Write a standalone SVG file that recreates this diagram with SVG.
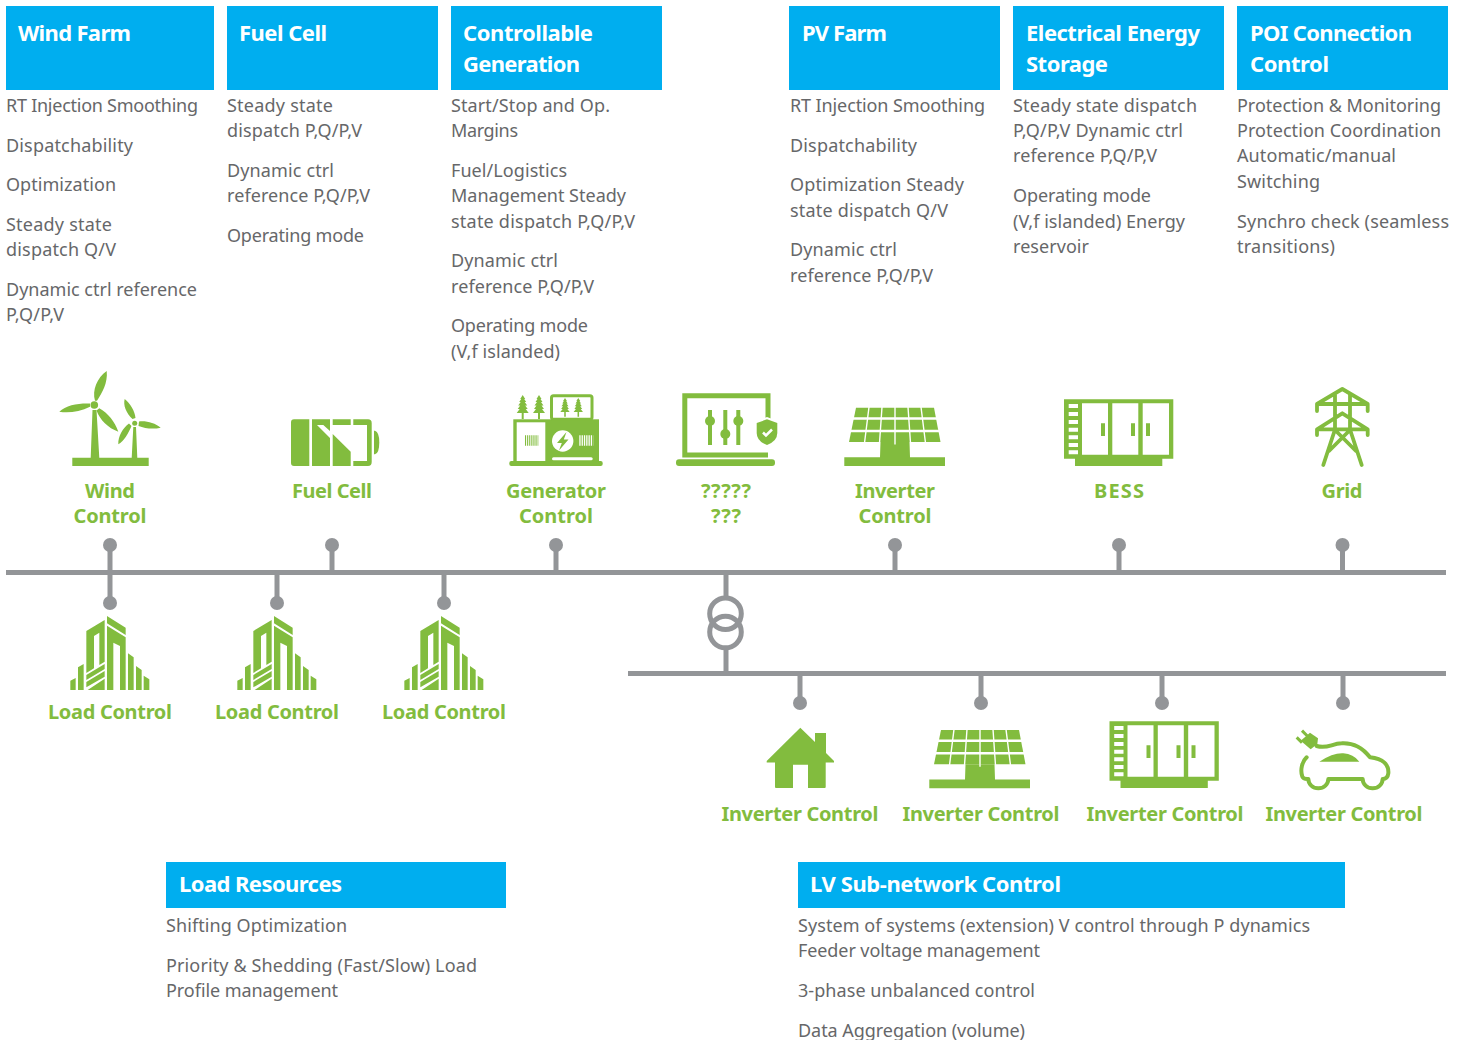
<svg xmlns="http://www.w3.org/2000/svg" xmlns:xlink="http://www.w3.org/1999/xlink" width="1465" height="1040" viewBox="0 0 1465 1040">
<style>
text{font-family:"Noto Sans","Open Sans","Liberation Sans",sans-serif}
.h{fill:#00aeef}
.ht{fill:#fff;font-weight:700;font-size:22px}
.b{fill:#666769;font-size:18px}
.l{fill:#82bc3e;font-weight:700;font-size:20px;text-anchor:middle}
.g{fill:#82bc3e}
.w{fill:#fff}
.gs{fill:none;stroke:#82bc3e}
.bus{stroke:#939598;stroke-width:5;fill:none}
.pin{fill:#939598}
</style>
<defs>
<g id="load" transform="translate(40,560) scale(.33333)">
<path class="g" d="M91,362L107,354V390H91ZM114,322L131,312V390H114ZM139,213L194,180V305L178,315V218L162,228V325L139,339ZM139,345L194,312V327L139,360ZM139,366L194,333V350L139,382ZM143,390L194,356V390ZM201,168L257,203V225L201,190ZM201,197L257,232V390H240V258L220,248V390H201ZM264,280L281,292V390H264ZM288,318L305,330V390H288ZM311,347L328,358V390H311Z"/>
</g>
<g id="panel">
<polygon class="g" points="856,407.700 934,407.700 940.500,442 849,442"/>
<path stroke="#fff" stroke-width="2.600" fill="none" d="M845,418.500H945M845,431H945"/>
<path stroke="#fff" stroke-width="1.400" fill="none" d="M869,407L864.500,443M882,407L879.500,443M895,407V444M908,407L910.500,443M921,407L925.500,443"/>
<polygon class="g" points="880.500,442 894.300,442 894.300,444.500 895.700,444.500 895.700,442 909.500,442 910,457.300 945,457.300 945,466 844.300,466 844.300,457.300 880,457.300"/>
</g>
<g id="bess">
<path class="g" d="M1064,399.300H1173.300V458.700H1162.300V466H1075V458.700H1064Z"/>
<path class="w" d="M1082,403.300h26v51.400h-26ZM1112.300,403.300h26v51.400h-26ZM1142.700,403.300h26.300v51.400h-26.300ZM1068.700,404h9.300v4h-9.300ZM1068.700,412h9.300v4h-9.300ZM1068.700,420h9.300v4h-9.300ZM1068.700,427.700h9.300v4h-9.300ZM1068.700,435.300h9.300v4h-9.300ZM1068.700,443h9.300v4h-9.300ZM1068.700,450.300h9.300v4h-9.300Z"/>
<path class="g" d="M1101,423.300h4v12.700h-4ZM1131,423.300h4v12.700h-4ZM1146,423.300h4v12.700h-4Z"/>
</g>
<path id="tree" d="M0,0L2.500,4H1.500L3.500,7H2L4.500,10.500H2.500L5,14H3L6,18H1V24H-1V18H-6L-3,14H-5L-2.500,10.500H-4.500L-2,7H-3.500L-1.500,4H-2.500Z"/>
</defs>

<g id="connectors">
<path class="bus" d="M6,572.500H1446M628,673.500H1446"/>
<path class="bus" d="M110,545V603M332,545V572M556,545V572M895,545V572M1119,545V572M1342.500,545V572M277,572V603M444,572V603M726,575V596M726,650V671M800,676V703M981,676V703M1162,676V703M1343,676V703"/>
<circle class="bus" cx="725.500" cy="613.700" r="15.800"/>
<circle class="bus" cx="725.500" cy="632" r="15.800"/>
<g class="pin">
<circle cx="110" cy="545" r="7"/><circle cx="332" cy="545" r="7"/><circle cx="556" cy="545" r="7"/><circle cx="895" cy="545" r="7"/><circle cx="1119" cy="545" r="7"/><circle cx="1342.500" cy="545" r="7"/>
<circle cx="110" cy="603" r="7"/><circle cx="277" cy="603" r="7"/><circle cx="444" cy="603" r="7"/>
<circle cx="800" cy="703" r="7"/><circle cx="981" cy="703" r="7"/><circle cx="1162" cy="703" r="7"/><circle cx="1343" cy="703" r="7"/>
</g>
</g>

<g id="card-wind-farm">
<rect class="h" x="6" y="6" width="208" height="84"/>
<text class="ht" x="18" y="41" textLength="113">Wind Farm</text>
<text class="b" x="6" y="112" textLength="192">RT Injection Smoothing</text>
<text class="b" x="6" y="152" textLength="127">Dispatchability</text>
<text class="b" x="6" y="191" textLength="110">Optimization</text>
<text class="b" x="6" y="231" textLength="106">Steady state</text>
<text class="b" x="6" y="256" textLength="110">dispatch Q/V</text>
<text class="b" x="6" y="296" textLength="191">Dynamic ctrl reference</text>
<text class="b" x="6" y="321" textLength="58">P,Q/P,V</text>
</g>
<g id="card-fuel-cell">
<rect class="h" x="227" y="6" width="211" height="84"/>
<text class="ht" x="239" y="41" textLength="88">Fuel Cell</text>
<text class="b" x="227" y="112" textLength="106">Steady state</text>
<text class="b" x="227" y="137" textLength="135">dispatch P,Q/P,V</text>
<text class="b" x="227" y="177" textLength="107">Dynamic ctrl</text>
<text class="b" x="227" y="202" textLength="143">reference P,Q/P,V</text>
<text class="b" x="227" y="242" textLength="137">Operating mode</text>
</g>
<g id="card-controllable">
<rect class="h" x="451" y="6" width="211" height="84"/>
<text class="ht" x="463" y="41" textLength="130">Controllable</text>
<text class="ht" x="463" y="72" textLength="117">Generation</text>
<text class="b" x="451" y="112" textLength="159">Start/Stop and Op.</text>
<text class="b" x="451" y="137" textLength="67">Margins</text>
<text class="b" x="451" y="177" textLength="116">Fuel/Logistics</text>
<text class="b" x="451" y="202" textLength="175">Management Steady</text>
<text class="b" x="451" y="228" textLength="184">state dispatch P,Q/P,V</text>
<text class="b" x="451" y="267" textLength="107">Dynamic ctrl</text>
<text class="b" x="451" y="293" textLength="143">reference P,Q/P,V</text>
<text class="b" x="451" y="332" textLength="137">Operating mode</text>
<text class="b" x="451" y="358" textLength="109">(V,f islanded)</text>
</g>
<g id="card-pv-farm">
<rect class="h" x="789" y="6" width="211" height="84"/>
<text class="ht" x="802" y="41" textLength="85">PV Farm</text>
<text class="b" x="790" y="112" textLength="195">RT Injection Smoothing</text>
<text class="b" x="790" y="152" textLength="127">Dispatchability</text>
<text class="b" x="790" y="191" textLength="174">Optimization Steady</text>
<text class="b" x="790" y="217" textLength="158">state dispatch Q/V</text>
<text class="b" x="790" y="256" textLength="107">Dynamic ctrl</text>
<text class="b" x="790" y="282" textLength="143">reference P,Q/P,V</text>
</g>
<g id="card-storage">
<rect class="h" x="1013" y="6" width="211" height="84"/>
<text class="ht" x="1026" y="41" textLength="174">Electrical Energy</text>
<text class="ht" x="1026" y="72" textLength="82">Storage</text>
<text class="b" x="1013" y="112" textLength="184">Steady state dispatch</text>
<text class="b" x="1013" y="137" textLength="170">P,Q/P,V Dynamic ctrl</text>
<text class="b" x="1013" y="162" textLength="144">reference P,Q/P,V</text>
<text class="b" x="1013" y="202" textLength="138">Operating mode</text>
<text class="b" x="1013" y="228" textLength="172">(V,f islanded) Energy</text>
<text class="b" x="1013" y="253" textLength="76">reservoir</text>
</g>
<g id="card-poi">
<rect class="h" x="1237" y="6" width="211" height="84"/>
<text class="ht" x="1250" y="41" textLength="162">POI Connection</text>
<text class="ht" x="1250" y="72" textLength="79">Control</text>
<text class="b" x="1237" y="112" textLength="204">Protection &amp; Monitoring</text>
<text class="b" x="1237" y="137" textLength="204">Protection Coordination</text>
<text class="b" x="1237" y="162" textLength="159">Automatic/manual</text>
<text class="b" x="1237" y="188" textLength="83">Switching</text>
<text class="b" x="1237" y="228" textLength="212">Synchro check (seamless</text>
<text class="b" x="1237" y="253" textLength="98">transitions)</text>
</g>
<g id="card-load-resources">
<rect class="h" x="166" y="862" width="340" height="46"/>
<text class="ht" x="179" y="892" textLength="163">Load Resources</text>
<text class="b" x="166" y="932" textLength="181">Shifting Optimization</text>
<text class="b" x="166" y="972" textLength="311">Priority &amp; Shedding (Fast/Slow) Load</text>
<text class="b" x="166" y="997" textLength="172">Profile management</text>
</g>
<g id="card-lv">
<rect class="h" x="798" y="862" width="547" height="46"/>
<text class="ht" x="810" y="892" textLength="251">LV Sub-network Control</text>
<text class="b" x="798" y="932" textLength="512">System of systems (extension) V control through P dynamics</text>
<text class="b" x="798" y="957" textLength="242">Feeder voltage management</text>
<text class="b" x="798" y="997" textLength="237">3-phase unbalanced control</text>
<text class="b" x="798" y="1037" textLength="227">Data Aggregation (volume)</text>
</g>

<g id="node-wind">
<path class="g" d="M72.300,457.700H148.700V466H72.300ZM92.500,410H96.500L99.300,458H90.700ZM133.300,427H136L137.300,458H131.700Z"/>
<path class="g" d="M95,400.700C92,390 97,378 106.700,371C108,383 102,393 97,400.700ZM90,406.700C80,412 68,413 59.300,411.700C66,405 79,403 90,403.500ZM99.300,408.300C108,413 115,422 118.300,431.700C108,428 100,420 96.500,410.500Z"/>
<circle class="g" cx="94.300" cy="405" r="3.800"/>
<path class="g" d="M132.500,419C126,413 123,405 124.700,399C130,403 135,411 135.500,418ZM139,421.500C146,420.500 155,423 160.700,427.700C153,429.500 145,428.500 138.500,426ZM131.500,426C128,434 124,441 118.300,444.300C118,436 123,428 129,423.500Z"/>
<circle class="g" cx="134.700" cy="423.300" r="2.500"/>
<text class="l" x="110" y="498" textLength="50">Wind</text>
<text class="l" x="110" y="523" textLength="73">Control</text>
</g>
<g id="node-fuel-cell">
<path class="g" d="M294,419.300H309.300V466H294Q291,466 291,463V422.300Q291,419.300 294,419.300ZM312,419.300H330V431L323.300,425H317L330,438V466H312ZM332.700,419.300H350.700V425H332.700ZM332.700,434L350.700,451.700V466H332.700ZM353.300,449L361,461H353.300V466H368Q371.700,466 371.700,462V423Q371.700,419.300 368,419.300H353.300V425H367V461H361Z"/>
<path class="g" d="M374,430.700H375Q379.300,432 379.300,442.500Q379.300,453 375,454.300H374Z"/>
<text class="l" x="332" y="498" textLength="80">Fuel Cell</text>
</g>
<g id="node-generator">
<rect class="g" x="509.300" y="461" width="93.400" height="5" rx="2"/>
<rect class="g" x="513.300" y="419.300" width="85.700" height="42"/>
<rect class="w" x="516.700" y="422.300" width="28.600" height="38.700"/>
<rect x="551.500" y="395.800" width="40.500" height="23.500" rx="2" fill="#fff" stroke="#82bc3e" stroke-width="3"/>
<use xlink:href="#tree" href="#tree" class="g" transform="translate(522.700,395)"/>
<use xlink:href="#tree" href="#tree" class="g" transform="translate(539,395)"/>
<use xlink:href="#tree" href="#tree" class="g" transform="translate(565,398) scale(.78)"/>
<use xlink:href="#tree" href="#tree" class="g" transform="translate(578.300,398) scale(.78)"/>
<path stroke="#82bc3e" stroke-width="10.500" stroke-dasharray="1.100 1" fill="none" d="M525,440.500H538.300"/>
<circle class="w" cx="562.700" cy="441" r="10.700"/>
<polygon class="g" points="566.500,432 557,443 561.800,443 559,450.500 568.500,439.500 563.800,439.500"/>
<path stroke="#fff" stroke-width="10.500" stroke-dasharray="1.300 1" fill="none" d="M579.300,440.500H593.300"/>
<rect class="w" x="552" y="457.300" width="40.700" height="3" rx="1.500"/>
<text class="l" x="556" y="498" textLength="100">Generator</text>
<text class="l" x="556" y="523" textLength="74">Control</text>
</g>
<g id="node-unknown">
<path class="gs" stroke-width="5" d="M768,430V395.800H684.800V455H768"/>
<rect class="g" x="676" y="459.300" width="99" height="6.700" rx="3"/>
<path class="gs" stroke-width="4" d="M710,410V445M725.300,410V445M738.300,410V445"/>
<circle class="g" cx="710" cy="421" r="5"/><circle class="g" cx="725.300" cy="434" r="5"/><circle class="g" cx="738.300" cy="421" r="5"/>
<path d="M767,417L779,421.500V433Q779,442 767,447Q755,442 755,433V421.500Z" class="w"/>
<path class="g" d="M767,419.300L777.300,423V433Q777.300,441 767,445Q756.700,441 756.700,433V423Z"/>
<path fill="none" stroke="#fff" stroke-width="2.500" d="M763,432.500L766,435.500L772,429.500"/>
<text class="l" x="726" y="498" textLength="50">?????</text>
<text class="l" x="726" y="523" textLength="30">???</text>
</g>
<g id="node-inverter">
<use xlink:href="#panel" href="#panel"/>
<text class="l" x="895" y="498" textLength="80">Inverter</text>
<text class="l" x="895" y="523" textLength="73">Control</text>
</g>
<g id="node-bess">
<use xlink:href="#bess" href="#bess"/>
<text class="l" x="1119" y="498" textLength="50">BESS</text>
</g>
<g id="node-grid">
<path class="gs" stroke-width="3.800" stroke-linecap="round" stroke-linejoin="round" d="M1317,411V404L1342.300,389L1367.700,404V411M1317,404H1367.700M1317,435V429.300L1342.300,413.300L1367.700,429.300V435M1317,429.300H1367.700M1335,394V429.500L1323.300,465M1350,394V429.500L1361.700,465M1335,430L1356,451M1350,430L1329,451"/>
<text class="l" x="1342" y="498" textLength="41">Grid</text>
</g>
<g id="node-load-1">
<use xlink:href="#load" href="#load"/>
<text class="l" x="110" y="719" textLength="124">Load Control</text>
</g>
<g id="node-load-2">
<use xlink:href="#load" href="#load" x="167"/>
<text class="l" x="277" y="719" textLength="124">Load Control</text>
</g>
<g id="node-load-3">
<use xlink:href="#load" href="#load" x="334"/>
<text class="l" x="444" y="719" textLength="124">Load Control</text>
</g>
<g id="node-home">
<path class="g" d="M800.300,727.700L815,742V733H826V753L834,761V762.500H825.700V787Q825.700,788 824.700,788H808V764.700H793V788H776Q775,788 775,787V762.500H766.700V761Z"/>
<text class="l" x="800" y="821" textLength="157">Inverter Control</text>
</g>
<g id="node-panel-2">
<use xlink:href="#panel" href="#panel" transform="translate(85,322.300)"/>
<text class="l" x="981" y="821" textLength="157">Inverter Control</text>
</g>
<g id="node-bess-2">
<use xlink:href="#bess" href="#bess" transform="translate(45.500,322)"/>
<text class="l" x="1165" y="821" textLength="157">Inverter Control</text>
</g>
<g id="node-ev">
<g transform="translate(1090,380) scale(.33333)">
<path class="gs" stroke-width="12" stroke-linecap="round" stroke-linejoin="round" d="M650,1132C636,1145 630,1170 637,1190Q640,1198 655,1197A30,28 0 0 0 715,1197H818A30,28 0 0 0 878,1197Q893,1197 895,1180C897,1155 880,1136 840,1132C815,1100 790,1088 755,1090C725,1091 710,1108 680,1098"/>
<path class="g" d="M688,1145Q730,1118 760,1120Q790,1122 808,1145Z"/>
<path class="g" d="M632,1082L660,1058L684,1075L682,1092L662,1108Z"/>
<path class="gs" stroke-width="9" d="M652,1068L636,1052M636,1088L620,1072"/>
</g>
<text class="l" x="1344" y="821" textLength="157">Inverter Control</text>
</g>
</svg>
